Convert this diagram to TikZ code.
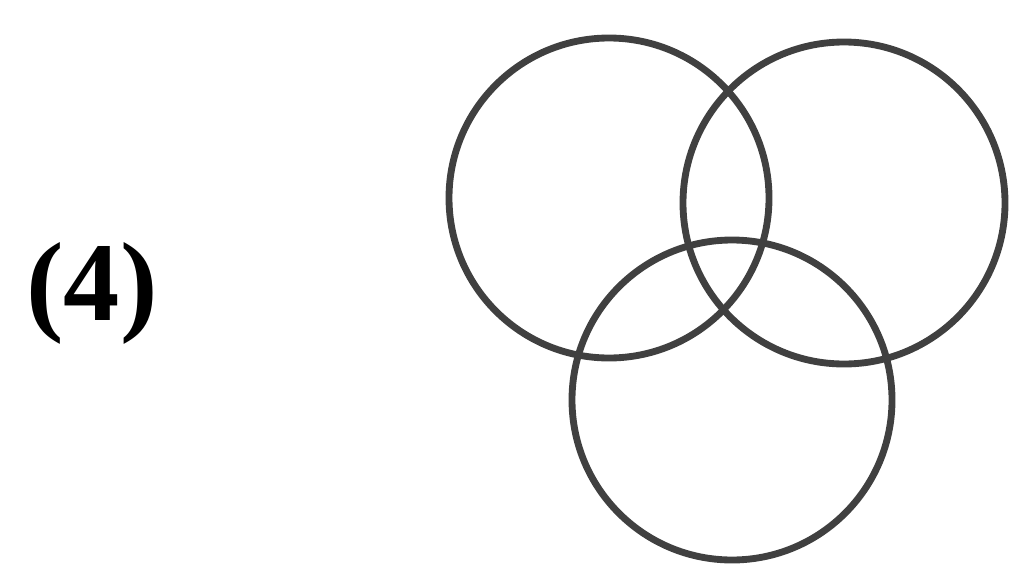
\documentclass[tikz,border=0pt]{standalone}
\usepackage{fontspec}
\setmainfont{Liberation Serif}
\begin{document}
\begin{tikzpicture}[x=0.02cm,y=-0.02cm,
  ring/.style={draw=black!75,line width=3.9pt}]
\useasboundingbox (0,0) rectangle (1016,568);
\node[font=\fontsize{64}{74}\selectfont\bfseries,inner sep=0] (lbl) at (92,293) {(4)};
\draw[ring] (609,198) circle (160);
\draw[ring] (844,203) circle (161);
\draw[ring] (732,400) circle (160);
\end{tikzpicture}
\end{document}
